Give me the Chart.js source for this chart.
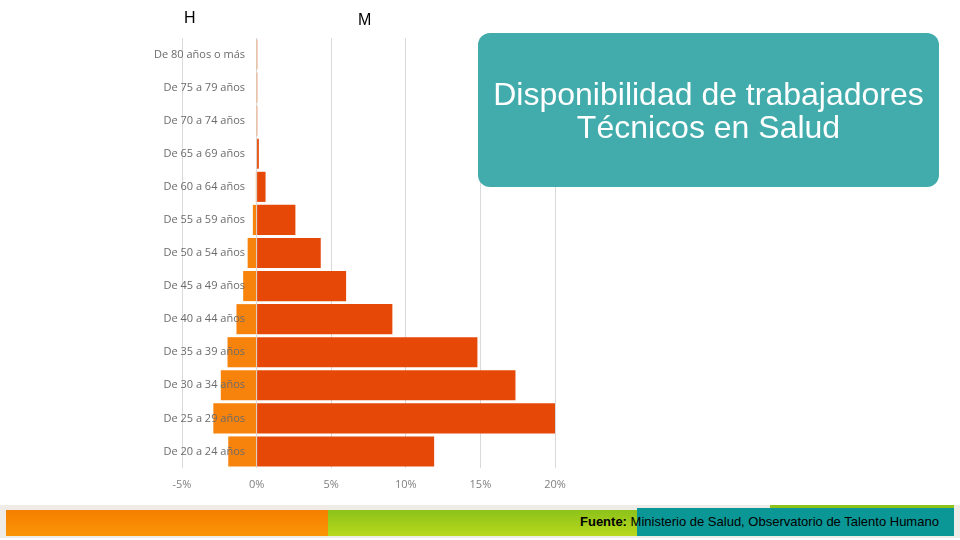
<!DOCTYPE html>
<html>
<head>
<meta charset="utf-8">
<script src="https://cdn.jsdelivr.net/npm/chart.js@4.4.1/dist/chart.umd.min.js"></script>
<style>
  body { margin: 0; background: #fff; }
  #slide { position: relative; width: 960px; height: 540px; overflow: hidden; font-family: "Liberation Sans", Arial, sans-serif; }
  #grafico { position: absolute; left: 0; top: 0; }
  .sexo { position: absolute; font-size: 16px; color: #000; }
  #titulo {
    position: absolute; left: 478px; top: 33px; width: 461px; height: 154px;
    border-radius: 12px; background: rgba(58, 169, 169, 0.96); color: #fff;
    font-size: 32px; line-height: 33px; text-align: center; box-sizing: border-box; padding-top: 45px;
  }
  #pie { position: absolute; left: 0; top: 505px; width: 960px; height: 33px; background: #efebe6; }
  .banda { position: absolute; top: 510px; height: 26px; }
  #fuente { position: absolute; left: 580px; top: 514px; font-family: "Liberation Sans Narrow", "Liberation Sans", sans-serif; font-size: 13px; color: #000; }
</style>
</head>
<body>
<div id="slide">
  <div id="pie"></div>
  <div class="banda" style="left:6px;width:322px;background:linear-gradient(#f57f00,#fb9406);"></div>
  <div class="banda" style="left:328px;width:310px;background:linear-gradient(#8cc21a,#b8d81c);"></div>
  <div class="banda" style="left:770px;width:184px;top:505px;height:5px;background:#8cc21a;"></div>
  <div class="banda" style="left:637px;width:317px;top:508px;height:28px;background:#0c9797;"></div>
  <div id="fuente"><b>Fuente:</b> Ministerio de Salud, Observatorio de Talento Humano</div>
  <canvas id="grafico" width="960" height="540"></canvas>
  <div class="sexo" style="left:184px;top:9px;">H</div>
  <div class="sexo" style="left:358px;top:11px;">M</div>
  <div id="titulo">Disponibilidad de trabajadores<br>Técnicos en Salud</div>
</div>
<script>
var categorias = ["De 80 años o más", "De 75 a 79 años", "De 70 a 74 años", "De 65 a 69 años",
    "De 60 a 64 años", "De 55 a 59 años", "De 50 a 54 años", "De 45 a 49 años", "De 40 a 44 años",
    "De 35 a 39 años", "De 30 a 34 años", "De 25 a 29 años", "De 20 a 24 años"];
var hombres = [-0.02, -0.02, -0.02, -0.03, -0.05, -0.25, -0.6, -0.9, -1.35, -1.95, -2.4, -2.9, -1.9];
var mujeres = [0.05, 0.05, 0.05, 0.15, 0.6, 2.6, 4.3, 6.0, 9.1, 14.8, 17.35, 20.1, 11.9];
var ticksX = [-5, 0, 5, 10, 15, 20];

// the age labels sit inside the plot, right-aligned so they end just left of 0%
var fuenteEtiquetas = '11px "Open Sans"';
var medida = document.createElement('canvas').getContext('2d');
medida.font = fuenteEtiquetas;
var anchoMax = Math.max.apply(null, categorias.map(function (c) { return medida.measureText(c).width; }));

var grafico = new Chart(document.getElementById('grafico'), {
    type: 'bar',
    data: {
        labels: categorias,
        datasets: [
            {
                label: 'H',
                data: hombres,
                backgroundColor: '#f7830c',
                borderWidth: 0,
                barPercentage: 0.91,
                categoryPercentage: 1
            },
            {
                label: 'M',
                data: mujeres,
                backgroundColor: '#e64808',
                borderWidth: 0,
                barPercentage: 0.91,
                categoryPercentage: 1
            }
        ]
    },
    options: {
        indexAxis: 'y',
        responsive: false,
        animation: false,
        layout: { padding: { left: 182, right: 405, top: 38, bottom: 42 } },
        plugins: {
            legend: { display: false },
            tooltip: { enabled: false }
        },
        scales: {
            x: {
                stacked: true,
                min: -5,
                max: 20,
                afterBuildTicks: function (scale) {
                    scale.ticks = ticksX.map(function (v) { return { value: v }; });
                },
                afterFit: function (scale) { scale.height = 30; },
                grid: { color: '#d9d9d9', drawTicks: false },
                border: { display: false },
                ticks: {
                    padding: 10,
                    color: '#808080',
                    font: { family: 'Open Sans', size: 11 },
                    callback: function (v) { return v + '%'; }
                }
            },
            y: {
                stacked: true,
                afterFit: function (scale) { scale.width = 0; },
                grid: { display: false, drawTicks: false },
                border: { display: false },
                ticks: {
                    mirror: true,
                    crossAlign: 'far',
                    z: 1,
                    padding: 63 - anchoMax,
                    color: '#6b6b6b',
                    font: { family: 'Open Sans', size: 11 }
                }
            }
        }
    }
});
</script>
</body>
</html>
